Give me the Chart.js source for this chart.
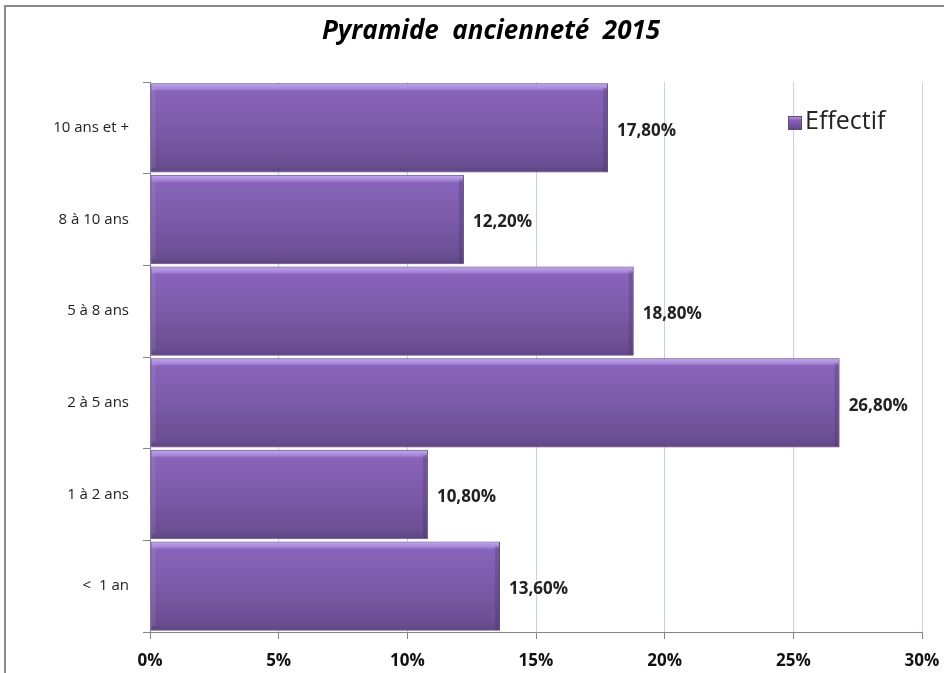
<!DOCTYPE html>
<html>
<head>
<meta charset="utf-8">
<script src="https://cdn.jsdelivr.net/npm/chart.js@4"></script>
<style>
  html, body { margin: 0; padding: 0; background: #fff; }
  #wrap { width: 944px; height: 673px; }
</style>
</head>
<body>
<div id="wrap"><canvas id="pyramideChart" width="944" height="673"></canvas></div>
<script>
const categories = ['10 ans et +', '8 à 10 ans', '5 à 8 ans', '2 à 5 ans', '1 à 2 ans', '<  1 an'];
const effectif = [17.8, 12.2, 18.8, 26.8, 10.8, 13.6];
const xTicks = [0, 5, 10, 15, 20, 25, 30];
const chartTitle = 'Pyramide  ancienneté  2015';

const FONT = "'Open Sans', 'DejaVu Sans', sans-serif";

// cadre gris en haut et à gauche + titre
const framePlugin = {
  id: 'frame',
  beforeDraw(chart) {
    const c = chart.ctx;
    c.save();
    c.fillStyle = '#fff';
    c.fillRect(0, 0, chart.width, chart.height);
    c.strokeStyle = '#8c8c8c';
    c.lineWidth = 2;
    c.beginPath();
    c.moveTo(5, chart.height);
    c.lineTo(5, 6);
    c.lineTo(chart.width, 6);
    c.stroke();
    c.fillStyle = '#000';
    c.font = "italic bold 26px " + FONT;
    c.textAlign = 'center';
    c.textBaseline = 'middle';
    c.fillText(chartTitle, 491, 32);
    c.restore();
  }
};

// dégradé biseauté sur les barres + étiquettes de valeurs
const barStylePlugin = {
  id: 'barStyle',
  afterDatasetsDraw(chart) {
    const c = chart.ctx;
    const meta = chart.getDatasetMeta(0);
    c.save();
    meta.data.forEach((bar, i) => {
      const left = bar.base + 1, right = bar.x - 1;
      const top = bar.y - bar.height / 2 + 1, bottom = bar.y + bar.height / 2 - 1;
      const g = c.createLinearGradient(0, top, 0, bottom);
      g.addColorStop(0, '#bea2ea');
      g.addColorStop(0.05, '#a687d8');
      g.addColorStop(0.08, '#8764ba');
      g.addColorStop(0.5, '#7b5ba9');
      g.addColorStop(0.92, '#6a4e92');
      g.addColorStop(1, '#5f4684');
      c.fillStyle = g;
      c.fillRect(left, top, right - left, bottom - top);
      // bord droit plus sombre
      c.fillStyle = 'rgba(60,40,90,0.25)';
      c.fillRect(right - 4, top + 4, 4, bottom - top - 4);
      // bord gauche légèrement éclairé
      c.fillStyle = 'rgba(255,255,255,0.08)';
      c.fillRect(left, top + 4, 4, bottom - top - 8);

      const txt = effectif[i].toFixed(2).replace('.', ',') + '%';
      c.fillStyle = '#222';
      c.font = "bold 17px " + FONT;
      c.textAlign = 'left';
      c.textBaseline = 'middle';
      c.fillText(txt, bar.x + 9, bar.y + 3);
    });
    c.restore();
  }
};

// légende dans la zone de tracé
const legendPlugin = {
  id: 'innerLegend',
  afterDraw(chart) {
    const c = chart.ctx;
    c.save();
    const x = 788, y = 116, s = 14;
    const g = c.createLinearGradient(0, y, 0, y + s);
    g.addColorStop(0, '#bea2ea');
    g.addColorStop(0.3, '#8764ba');
    g.addColorStop(1, '#5f4684');
    c.fillStyle = g;
    c.fillRect(x, y, s, s);
    c.strokeStyle = '#5d4a75';
    c.lineWidth = 1;
    c.strokeRect(x + 0.5, y + 0.5, s - 1, s - 1);
    c.fillStyle = '#222';
    c.font = "25px " + FONT;
    c.textAlign = 'left';
    c.textBaseline = 'middle';
    c.fillText('Effectif', x + s + 3, y + s / 2 - 1);
    c.restore();
  }
};

const ctx = document.getElementById('pyramideChart').getContext('2d');

const pyramideChart = new Chart(ctx, {
  type: 'bar',
  data: {
    labels: categories,
    datasets: [{
      label: 'Effectif',
      data: effectif,
      backgroundColor: '#7a5ba7',
      borderColor: '#5d4a75',
      borderWidth: 1,
      barPercentage: 0.975,
      categoryPercentage: 1
    }]
  },
  plugins: [framePlugin, barStylePlugin, legendPlugin],
  options: {
    indexAxis: 'y',
    responsive: false,
    animation: false,
    layout: { padding: { left: 0, right: 22, top: 82, bottom: 0 } },
    plugins: {
      legend: { display: false },
      tooltip: { enabled: false },
      title: { display: false }
    },
    scales: {
      x: {
        min: 0,
        max: 30,
        afterFit(scale) {
          scale.height = 41;
          scale.paddingRight = 0;
          scale.paddingLeft = 0;
        },
        afterBuildTicks(scale) { scale.ticks = xTicks.map(v => ({ value: v })); },
        ticks: {
          color: '#111',
          padding: 12,
          font: { family: FONT, size: 17, weight: 'bold' },
          callback: v => v + '%'
        },
        grid: {
          color: '#c3d4ec',
          tickColor: '#868686',
          tickLength: 7,
          drawOnChartArea: true
        },
        border: { color: '#868686', width: 1 }
      },
      y: {
        afterFit(scale) { scale.width = 150; },
        ticks: {
          color: '#222',
          padding: 14,
          font: { family: FONT, size: 15 }
        },
        grid: {
          offset: true,
          drawOnChartArea: false,
          tickColor: '#868686',
          tickLength: 7
        },
        border: { color: '#868686', width: 1 }
      }
    }
  }
});
</script>
</body>
</html>
